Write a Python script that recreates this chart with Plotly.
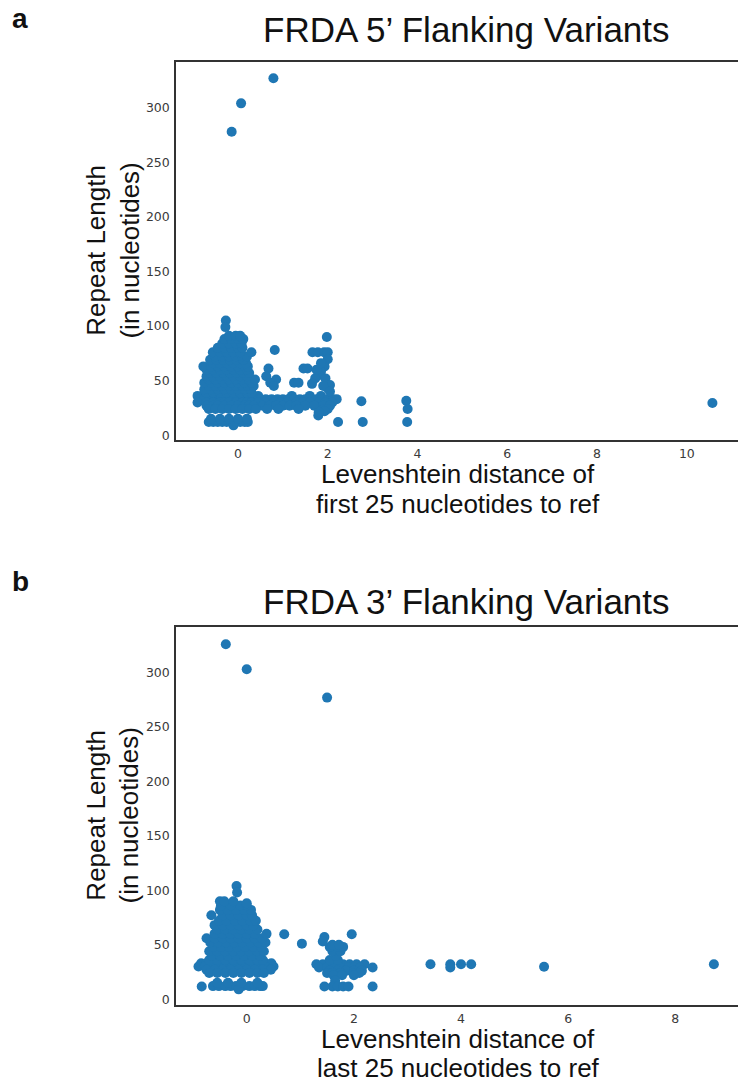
import plotly.graph_objects as go

W, H = 738, 1084

def px(x):
    return x / W

def py(y):
    return 1 - y / H

# ---------------- Panel a: 5' flanking ----------------
five_outliers = [(0.79, 327), (0.07, 304), (-0.14, 278), (-0.27, 105), (-0.28, 99),
                 (10.57, 29.5), (2.75, 31), (2.78, 12), (2.23, 12),
                 (3.75, 31.5), (3.78, 24), (3.77, 12)]

five_band = [
    (-0.9, 36), (-0.8, 36), (-0.65, 36), (-0.5, 36), (-0.35, 36), (-0.2, 36), (-0.05, 36),
    (0.1, 36), (0.25, 36), (0.45, 36), (1.2, 36), (1.6, 36), (1.85, 36),
    (-0.85, 33), (-0.75, 33), (-0.62, 33), (-0.5, 33), (-0.38, 33), (-0.25, 33), (-0.12, 33),
    (0.0, 33), (0.12, 33), (0.25, 33), (0.38, 33), (0.5, 33), (0.62, 33), (0.75, 33),
    (0.88, 33), (1.0, 33), (1.12, 33), (1.25, 33), (1.38, 33), (1.5, 33), (1.62, 33),
    (1.75, 33), (1.88, 33), (2.0, 33), (2.12, 33), (2.2, 33),
    (-0.9, 30), (-0.7, 30), (-0.55, 30), (-0.4, 30), (-0.3, 30), (-0.2, 30), (-0.05, 30),
    (0.1, 30), (0.2, 30), (0.3, 30), (0.45, 30), (0.6, 30), (0.8, 30), (0.95, 30),
    (1.1, 30), (1.3, 30), (1.45, 30), (1.6, 30), (1.8, 30), (1.95, 30), (2.1, 30),
    (-0.7, 27), (-0.55, 27), (-0.45, 27), (-0.3, 27), (-0.15, 27), (0.0, 27), (0.15, 27),
    (0.25, 27), (0.35, 27), (0.55, 27), (0.7, 27), (0.85, 27), (1.0, 27), (1.15, 27),
    (1.3, 27), (1.5, 27), (1.7, 27), (1.9, 27), (2.05, 27),
    (-0.65, 24), (-0.5, 24), (-0.35, 24), (-0.2, 24), (-0.05, 24), (0.1, 24), (0.25, 24),
    (0.4, 24), (0.65, 24), (0.9, 24), (1.35, 24), (1.9, 24), (2.0, 24),
]

five_low = [(-0.65, 12), (-0.55, 12), (-0.45, 12), (-0.35, 12), (-0.25, 12), (-0.15, 12),
            (-0.05, 12), (0.05, 12), (0.15, 12), (0.22, 12), (-0.1, 9),
            (-0.6, 15), (-0.4, 15), (-0.2, 15), (0.0, 15), (0.2, 15),
            (1.79, 18), (1.93, 22), (1.8, 21)]

five_blob = [
    (-0.7, 39), (-0.55, 39), (-0.4, 39), (-0.25, 39), (-0.1, 39), (0.05, 39), (0.2, 39), (0.3, 39),
    (-0.75, 42), (-0.6, 42), (-0.45, 42), (-0.3, 42), (-0.15, 42), (0.0, 42), (0.15, 42), (0.28, 42),
    (-0.65, 45), (-0.5, 45), (-0.35, 45), (-0.2, 45), (-0.05, 45), (0.1, 45), (0.22, 45), (0.35, 45),
    (-0.75, 48), (-0.6, 48), (-0.45, 48), (-0.3, 48), (-0.15, 48), (0.0, 48), (0.15, 48), (0.3, 48),
    (-0.65, 51), (-0.5, 51), (-0.35, 51), (-0.2, 51), (-0.05, 51), (0.1, 51), (0.25, 51), (0.38, 51),
    (-0.7, 54), (-0.55, 54), (-0.4, 54), (-0.25, 54), (-0.1, 54), (0.05, 54), (0.2, 54),
    (-0.62, 57), (-0.48, 57), (-0.33, 57), (-0.18, 57), (-0.03, 57), (0.12, 57), (0.25, 57),
    (-0.7, 60), (-0.55, 60), (-0.4, 60), (-0.25, 60), (-0.1, 60), (0.05, 60), (0.2, 60),
    (-0.77, 63), (-0.6, 63), (-0.45, 63), (-0.3, 63), (-0.15, 63), (0.0, 63), (0.15, 63), (0.22, 63),
    (-0.55, 66), (-0.4, 66), (-0.25, 66), (-0.1, 66), (0.05, 66), (0.18, 66),
    (-0.62, 69), (-0.48, 69), (-0.33, 69), (-0.18, 69), (-0.03, 69), (0.12, 69),
    (-0.5, 72), (-0.35, 72), (-0.2, 72), (-0.05, 72), (0.1, 72), (0.2, 72),
    (-0.56, 76), (-0.4, 76), (-0.25, 76), (-0.1, 76), (0.05, 76), (0.3, 76),
    (-0.45, 80), (-0.3, 80), (-0.15, 80), (0.0, 80), (0.1, 80),
    (-0.35, 84), (-0.2, 84), (-0.05, 84), (0.08, 84),
    (-0.3, 88), (-0.15, 88), (0.0, 88), (0.12, 88),
    (-0.2, 91), (-0.05, 91), (0.05, 91),
]

five_side = [(0.82, 78), (0.68, 61), (0.63, 54), (0.85, 51), (0.72, 48), (0.8, 45),
             (1.25, 48), (1.35, 48), (1.46, 61), (1.55, 61),
             (1.66, 76), (1.78, 76), (1.92, 76), (2.0, 76), (1.98, 90),
             (2.0, 69.5), (1.93, 63), (1.85, 58), (1.8, 55), (1.72, 52), (1.95, 52),
             (1.65, 47), (2.0, 43), (2.05, 46), (1.9, 45), (1.75, 60), (1.85, 66), (2.05, 40)]

# ---------------- Panel b: 3' flanking ----------------
three_outliers = [(-0.39, 326), (0.0, 303), (1.5, 277), (8.72, 32), (5.55, 29.7),
                  (3.43, 32), (3.8, 32), (3.8, 29), (4.0, 32), (4.19, 32),
                  (0.7, 59.6), (1.03, 51), (1.96, 59.6), (1.45, 57), (1.42, 53),
                  (-0.19, 104), (-0.18, 98), (-0.84, 11.6), (2.35, 29), (2.35, 11.6), (1.45, 11.6)]

three_band = [
    (-0.85, 33), (-0.75, 33), (-0.62, 33), (-0.5, 33), (-0.38, 33), (-0.25, 33), (-0.12, 33),
    (0.0, 33), (0.12, 33), (0.25, 33), (0.35, 33), (0.46, 33),
    (-0.9, 30), (-0.78, 30), (-0.65, 30), (-0.52, 30), (-0.4, 30), (-0.28, 30), (-0.15, 30),
    (-0.02, 30), (0.1, 30), (0.22, 30), (0.34, 30), (0.5, 30),
    (-0.75, 27), (-0.6, 27), (-0.45, 27), (-0.3, 27), (-0.15, 27), (0.0, 27), (0.15, 27),
    (0.3, 27), (0.45, 27),
    (-0.7, 24), (-0.55, 24), (-0.4, 24), (-0.25, 24), (-0.1, 24), (0.05, 24), (0.2, 24), (0.32, 24),
]

three_low = [(-0.63, 12), (-0.52, 12), (-0.4, 12), (-0.3, 12), (-0.2, 12), (-0.08, 12),
             (0.05, 12), (0.15, 12), (0.25, 12), (0.3, 12), (-0.15, 9),
             (-0.55, 15), (-0.35, 15), (-0.1, 15), (0.2, 15)]

three_blob = [
    (-0.7, 36), (-0.55, 36), (-0.4, 36), (-0.25, 36), (-0.1, 36), (0.05, 36), (0.2, 36), (0.3, 36),
    (-0.65, 40), (-0.5, 40), (-0.35, 40), (-0.2, 40), (-0.05, 40), (0.1, 40), (0.25, 40),
    (-0.7, 44), (-0.55, 44), (-0.4, 44), (-0.25, 44), (-0.1, 44), (0.05, 44), (0.2, 44), (0.32, 44),
    (-0.62, 48), (-0.48, 48), (-0.33, 48), (-0.18, 48), (-0.03, 48), (0.12, 48), (0.27, 48),
    (-0.68, 52), (-0.53, 52), (-0.38, 52), (-0.23, 52), (-0.08, 52), (0.07, 52), (0.22, 52), (0.35, 52),
    (-0.75, 56), (-0.6, 56), (-0.45, 56), (-0.3, 56), (-0.15, 56), (0.0, 56), (0.15, 56), (0.28, 56),
    (-0.6, 60), (-0.45, 60), (-0.3, 60), (-0.15, 60), (0.0, 60), (0.15, 60), (0.37, 60),
    (-0.55, 64), (-0.4, 64), (-0.25, 64), (-0.1, 64), (0.05, 64), (0.2, 64),
    (-0.6, 68), (-0.45, 68), (-0.3, 68), (-0.15, 68), (0.0, 68), (0.12, 68),
    (-0.52, 72), (-0.38, 72), (-0.22, 72), (-0.08, 72), (0.07, 72), (0.17, 72),
    (-0.66, 77), (-0.45, 77), (-0.3, 77), (-0.15, 77), (0.0, 77), (0.1, 77),
    (-0.5, 82), (-0.35, 82), (-0.2, 82), (-0.05, 82), (0.08, 82),
    (-0.48, 86), (-0.3, 86), (-0.12, 86), (0.0, 86),
    (-0.5, 90), (-0.42, 90), (-0.25, 90), (0.0, 88),
]

three_side = [
    (1.3, 32), (1.42, 32), (1.55, 32), (1.68, 32), (1.8, 32), (1.92, 32), (2.05, 32), (2.2, 32),
    (1.35, 29), (1.5, 29), (1.62, 29), (1.75, 29), (1.9, 29), (2.0, 29), (2.12, 29),
    (1.55, 26), (1.7, 26), (1.85, 26), (2.0, 26), (2.15, 26),
    (1.5, 24), (1.6, 24), (1.75, 24), (2.0, 24), (2.1, 24),
    (1.62, 22), (1.78, 22), (2.0, 22),
    (1.55, 36), (1.7, 36), (1.66, 40), (1.6, 44), (1.75, 44),
    (1.55, 48), (1.7, 48), (1.8, 48), (1.6, 50), (1.72, 50),
    (1.65, 17), (1.6, 11.6), (1.7, 11.6), (1.8, 11.6), (1.9, 11.6),
]

BLUE = "#1f77b4"


def unzip(*groups):
    xs, ys = [], []
    for g in groups:
        for x, y in g:
            xs.append(x)
            ys.append(y)
    return xs, ys


x5, y5 = unzip(five_band, five_low, five_blob, five_side, five_outliers)
x3, y3 = unzip(three_band, three_low, three_blob, three_side, three_outliers)

fig = go.Figure()
fig.add_trace(go.Scatter(x=x5, y=y5, mode="markers", xaxis="x", yaxis="y",
                         marker=dict(color=BLUE, size=10, line=dict(width=0))))
fig.add_trace(go.Scatter(x=x3, y=y3, mode="markers", xaxis="x2", yaxis="y2",
                         marker=dict(color=BLUE, size=10, line=dict(width=0))))

tickfont = dict(family="DejaVu Sans", size=12.5, color="#3a3a3a")
xcommon = dict(showline=True, mirror=True, linecolor="#333333", linewidth=1.5,
               showgrid=False, zeroline=False, ticks="", tickfont=tickfont,
               ticklabelstandoff=1)
ycommon = dict(showline=True, mirror=False, linecolor="#333333", linewidth=1.5,
               showgrid=False, zeroline=False, ticks="", tickfont=tickfont,
               ticklabelstandoff=2,
               tickvals=[0, 50, 100, 150, 200, 250, 300])

fig.update_layout(
    width=W, height=H,
    margin=dict(l=0, r=0, t=0, b=0),
    paper_bgcolor="white", plot_bgcolor="white",
    showlegend=False,
    xaxis=dict(domain=[px(176), 1.0], range=[-1.38, 11.14], anchor="y",
               tickvals=[0, 2, 4, 6, 8, 10], **xcommon),
    yaxis=dict(domain=[py(441), py(62)], range=[-4.6, 342], anchor="x", **ycommon),
    xaxis2=dict(domain=[px(176), 1.0], range=[-1.32, 9.17], anchor="y2",
                tickvals=[0, 2, 4, 6, 8], **xcommon),
    yaxis2=dict(domain=[py(1007), py(628)], range=[-5.5, 342], anchor="x2", **ycommon),
)

TXT = "#111111"
LBL = "Liberation Sans"


def ann(text, x, y, size, bold=False, angle=0):
    fig.add_annotation(text=(f"<b>{text}</b>" if bold else text), x=px(x), y=py(y),
                       xref="paper", yref="paper", showarrow=False,
                       xanchor="center", yanchor="middle", textangle=angle,
                       font=dict(family=LBL, size=size, color=TXT))


ann("a", 20, 19, 28, bold=True)
ann("FRDA 5’ Flanking Variants", 467, 30, 35)
ann("Repeat Length<br>(in nucleotides)", 113, 251, 26, angle=-90)
ann("Levenshtein distance of", 458, 475, 26)
ann("first 25 nucleotides to ref", 458, 505, 26)

ann("b", 20, 583, 28, bold=True)
ann("FRDA 3’ Flanking Variants", 467, 603, 35)
ann("Repeat Length<br>(in nucleotides)", 113, 817, 26, angle=-90)
ann("Levenshtein distance of", 458, 1041, 26)
ann("last 25 nucleotides to ref", 458, 1070, 26)

fig.write_html("out.html", config={"displayModeBar": False},
               post_script="document.body.style.margin='0';document.body.style.overflow='hidden';")
